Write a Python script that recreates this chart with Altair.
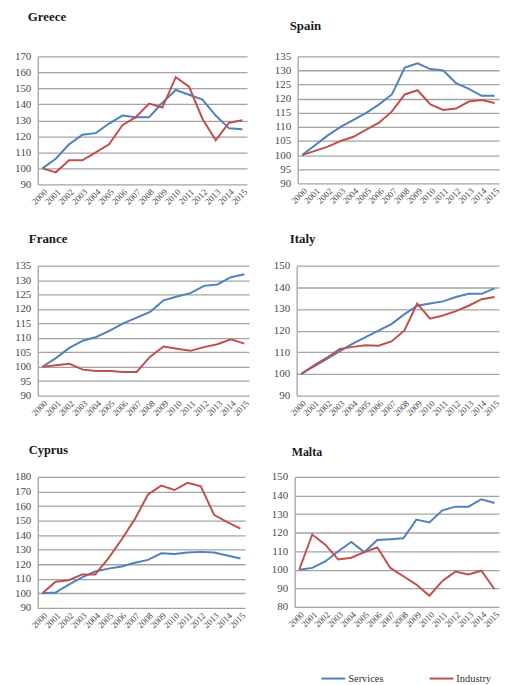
import altair as alt
import pandas as pd

SERIF = "Liberation Serif"

years = list(range(2000, 2016))
series_names = ["Services", "Industry"]
series_colors = ["#4f81bd", "#c0504d"]

greece_services = [100, 106, 115, 121, 122, 128, 133, 132, 132, 141, 149, 146, 143, 133, 125, 124.5]
greece_industry = [100, 97.5, 105, 105, 110, 115, 127, 132, 140.5, 138, 157, 151, 131, 117.5, 128.5, 130]
spain_services = [100, 103.5, 107, 110, 112.5, 115, 118, 121.5, 131, 132.5, 130.5, 130, 125.5, 123.5, 121, 121]
spain_industry = [100, 101.5, 103, 105, 106.5, 109, 111.5, 115.5, 121.5, 123, 118, 116, 116.5, 119, 119.5, 118.5]
france_services = [100, 103, 106.5, 109, 110.3, 112.5, 115, 117, 119, 123, 124.3, 125.5, 128, 128.5, 131, 132]
france_industry = [100, 100.5, 101, 99, 98.5, 98.5, 98.2, 98.2, 103.5, 107, 106.2, 105.5, 106.8, 107.8, 109.5, 108]
italy_services = [100, 103.5, 107, 110.5, 114, 117, 120, 123, 127.5, 131.5, 132.5, 133.5, 135.5, 137, 137, 139.5]
italy_industry = [100, 104, 107.5, 111.5, 112.5, 113.3, 113, 115, 120, 132.5, 125.5, 127, 129, 131.5, 134.5, 135.5]
cyprus_services = [100, 100.5, 106, 111, 115, 117, 118.5, 121, 123, 127.5, 127, 128, 128.5, 128, 126, 124]
cyprus_industry = [100, 108, 109, 113, 113, 124, 137, 151, 168, 174, 171, 176, 173.5, 154, 149, 144.5]
malta_services = [100, 101, 104.5, 110, 115, 109.5, 116, 116.5, 117, 127, 125.5, 132, 134, 134, 138, 136]
malta_industry = [100, 119, 113.5, 105.5, 106.5, 109.5, 112, 101, 96.5, 92, 86, 94, 99, 97.5, 99.5, 89.5]

GRID = "#a3a3a3"
LABEL = "#4a4a4a"


def panel(name, svc, ind, lo, hi, step, w, h, toff, tdx, tsize=13):
    df = pd.DataFrame({
        "Year": years + years,
        "Value": svc + ind,
        "Series": [series_names[0]] * len(years) + [series_names[1]] * len(years),
    })
    return alt.Chart(
        df,
        title=alt.Title(name, anchor="start", frame="group", dx=tdx, offset=toff,
                        fontSize=tsize, font=SERIF, fontWeight="bold", color="#1a1a1a"),
    ).mark_line(strokeWidth=2).encode(
        x=alt.X("Year:O", scale=alt.Scale(padding=0.35, paddingOuter=0.35),
                axis=alt.Axis(title=None, labelAngle=-45, tickSize=0, domain=False,
                              labelPadding=3, labelFont=SERIF, labelFontSize=9,
                              labelColor=LABEL, grid=False)),
        y=alt.Y("Value:Q", scale=alt.Scale(domain=[lo, hi], nice=False, zero=False),
                axis=alt.Axis(title=None, values=list(range(lo, hi + 1, step)), tickSize=0,
                              labelPadding=7, minExtent=25, maxExtent=25,
                              labelFont=SERIF, labelFontSize=11, labelColor=LABEL,
                              domainColor=GRID, domainWidth=1.3,
                              gridColor=GRID, gridWidth=1.3)),
        color=alt.Color("Series:N",
                        scale=alt.Scale(domain=series_names, range=series_colors),
                        legend=alt.Legend(title=None, orient="none", legendX=285, legendY=621,
                                          direction="horizontal", symbolType="M-1,0H3.8",
                                          symbolSize=100, symbolStrokeWidth=2,
                                          labelOffset=16, columnPadding=42, padding=0,
                                          labelFont=SERIF, labelFontSize=10.5,
                                          labelColor="#333333")),
    ).properties(width=w, height=h)


row1 = alt.hconcat(
    panel("Greece", greece_services, greece_industry, 90, 170, 10, 211, 129, 27, -10),
    panel("Spain", spain_services, spain_industry, 90, 135, 5, 203, 128, 18, -8),
    spacing=24,
)
row2 = alt.hconcat(
    panel("France", france_services, france_industry, 90, 135, 5, 213, 131, 14, -9),
    panel("Italy", italy_services, italy_industry, 90, 150, 10, 204, 131, 14, -7),
    spacing=21,
)
row3 = alt.hconcat(
    panel("Cyprus", cyprus_services, cyprus_industry, 90, 180, 10, 209, 132, 14.5, -9, 12.5),
    panel("Malta", malta_services, malta_industry, 80, 150, 10, 206, 131, 12.5, -3, 12),
    spacing=23,
)

chart = alt.vconcat(row1, row2, row3, spacing=26).properties(
    padding={"left": 5, "top": 0, "right": 0, "bottom": 0},
    background="white",
).configure_view(stroke=None)

chart.save("out.html", embed_options={"renderer": "svg", "actions": False})
